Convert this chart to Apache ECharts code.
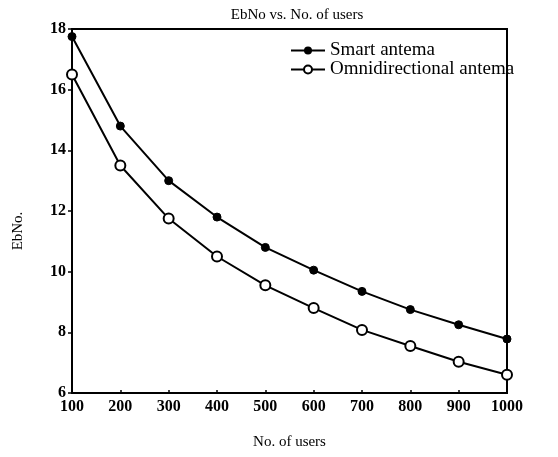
<!DOCTYPE html>
<html>
<head>
<meta charset="utf-8">
<script src="https://cdn.jsdelivr.net/npm/echarts@6/dist/echarts.min.js"></script>
<style>
  html, body { margin: 0; padding: 0; background: #fff; }
  #chart { width: 558px; height: 457px; }
</style>
</head>
<body>
<div id="chart"></div>
<script>
	// data
	var users = [100, 200, 300, 400, 500, 600, 700, 800, 900, 1000];
	var smartEbNo = [17.75, 14.8, 13.0, 11.8, 10.8, 10.05, 9.35, 8.75, 8.25, 7.78];
	var omniEbNo = [16.5, 13.5, 11.75, 10.5, 9.55, 8.8, 8.08, 7.55, 7.03, 6.6];
	var seriesNames = ['Smart antema', 'Omnidirectional antema'];

	function pairs(xs, ys) {
		return xs.map(function(x, i) { return [x, ys[i]]; });
	}

	var serif = 'Liberation Serif';
	var black = '#000';

	var chart = echarts.init(document.getElementById('chart'));
	chart.setOption({
		animation: false,
		backgroundColor: '#fff',
		title: {
			text: 'EbNo vs. No. of users',
			left: 292, top: 3, textAlign: 'center',
			textStyle: { fontFamily: serif, fontSize: 15, fontWeight: 'normal', color: black }
		},
		legend: {
			orient: 'vertical',
			left: 285, top: 36,
			itemWidth: 34, itemHeight: 10, itemGap: 0,
			textStyle: { fontFamily: serif, fontSize: 19, color: black },
			data: seriesNames
		},
		grid: {
			left: 72, right: 51, top: 29, bottom: 64,
			show: true, borderColor: black, borderWidth: 2
		},
		xAxis: {
			type: 'value', min: 100, max: 1000, interval: 100,
			name: 'No. of users', nameLocation: 'middle', nameGap: 42,
			nameTextStyle: { fontFamily: serif, fontSize: 15, color: black },
			axisLine: { lineStyle: { color: black, width: 2 } },
			axisTick: { inside: true, length: 3, lineStyle: { color: black, width: 1.5 } },
			axisLabel: {
				fontFamily: serif, fontSize: 16, fontWeight: 'bold', color: black, margin: 6,
				formatter: function(v) { return String(v); }
			},
			splitLine: { show: false }
		},
		yAxis: {
			type: 'value', min: 6, max: 18, interval: 2,
			name: 'EbNo.', nameLocation: 'middle', nameGap: 46,
			nameTextStyle: { fontFamily: serif, fontSize: 15, color: black, padding: [0, 0, 0, -40] },
			axisLine: { show: true, lineStyle: { color: black, width: 2 } },
			axisTick: { show: true, length: 4, lineStyle: { color: black, width: 1.5 } },
			axisLabel: { fontFamily: serif, fontSize: 16, fontWeight: 'bold', color: black, margin: 6 },
			splitLine: { show: false }
		},
		series: [
			{
				name: seriesNames[0], type: 'line',
				data: pairs(users, smartEbNo),
				symbol: 'circle', symbolSize: 8,
				lineStyle: { color: black, width: 2 },
				itemStyle: { color: black, borderColor: black }
			},
			{
				name: seriesNames[1], type: 'line',
				data: pairs(users, omniEbNo),
				symbol: 'emptyCircle', symbolSize: 10,
				lineStyle: { color: black, width: 2 },
				itemStyle: { color: black, borderColor: black, borderWidth: 2 }
			}
		]
	});
</script>
</body>
</html>
